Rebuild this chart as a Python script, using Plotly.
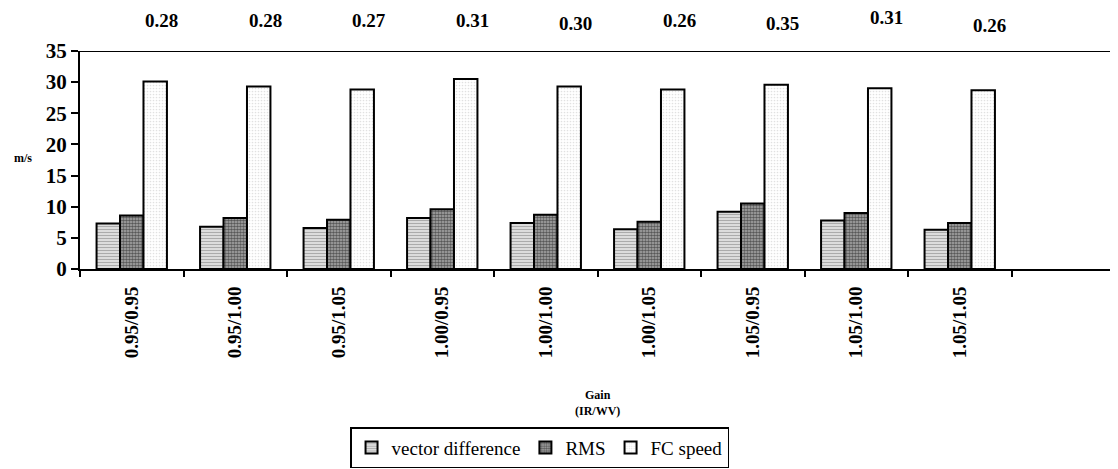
import plotly.graph_objects as go

categories = ["0.95/0.95", "0.95/1.00", "0.95/1.05", "1.00/0.95", "1.00/1.00",
              "1.00/1.05", "1.05/0.95", "1.05/1.00", "1.05/1.05", " "]
vector_difference = [7.3, 6.8, 6.6, 8.2, 7.4, 6.4, 9.2, 7.8, 6.3, None]
rms = [8.6, 8.2, 7.9, 9.6, 8.7, 7.6, 10.5, 9.0, 7.4, None]
fc_speed = [30.1, 29.3, 28.8, 30.5, 29.3, 28.8, 29.6, 29.0, 28.7, None]
ratios = ["0.28", "0.28", "0.27", "0.31", "0.30", "0.26", "0.35", "0.31", "0.26"]
ratio_label_y = [20, 20, 20, 20, 24, 20, 24, 18, 25]  # pixel from top (style)

FONT = "Times New Roman"

fig = go.Figure()
fig.add_trace(go.Bar(
    x=categories, y=vector_difference, name="vector difference",
    marker=dict(color="#d9d9d9", line=dict(color="black", width=2),
                pattern=dict(shape="-", fgcolor="#707070", bgcolor="#e6e6e6",
                             size=3, solidity=0.45))))
fig.add_trace(go.Bar(
    x=categories, y=rms, name="RMS",
    marker=dict(color="#606060", line=dict(color="black", width=2),
                pattern=dict(shape=".", fgcolor="#000000", bgcolor="#b0b0b0",
                             size=3, solidity=0.6))))
fig.add_trace(go.Bar(
    x=categories, y=fc_speed, name="FC speed",
    marker=dict(color="white", line=dict(color="black", width=2),
                pattern=dict(shape=".", fgcolor="#c4c4c4", bgcolor="#ffffff",
                             size=3, solidity=0.25))))

# page has an 8px body margin, so the figure is sized to fit the window
W, H = 1110, 461
top_m, bot_m = 43, 200
plot_h = H - top_m - bot_m
for cat, lab, py in zip(categories, ratios, ratio_label_y):
    fig.add_annotation(x=cat, xref="x", y=(H - bot_m - (py - 8)) / plot_h, yref="paper",
                       text=lab, showarrow=False, xshift=30, yanchor="middle",
                       font=dict(family=FONT, size=19, color="black", weight="bold"))

fig.add_annotation(x=-0.066, xref="paper", y=0.51, yref="paper", text="m/s",
                   showarrow=False, font=dict(family=FONT, size=12, color="black", weight="bold"))
fig.add_annotation(x=0.5, xref="paper", y=-0.615, yref="paper", text="Gain<br>(IR/WV)",
                   showarrow=False, yanchor="middle",
                   font=dict(family=FONT, size=12, color="black", weight="bold"))

fig.add_shape(type="line", xref="paper", yref="y", x0=0, x1=1, y0=35, y1=35,
              line=dict(color="black", width=2))

fig.update_layout(
    width=W, height=H,
    margin=dict(l=72, r=3, t=top_m, b=bot_m, autoexpand=False),
    paper_bgcolor="white", plot_bgcolor="white",
    barmode="group", bargap=0.32, bargroupgap=0,
    font=dict(family=FONT, color="black"),
    showlegend=True,
    legend=dict(orientation="h", x=0.444, xanchor="center", y=-0.725, yanchor="top",
                bordercolor="black", borderwidth=1.5,
                font=dict(family="Liberation Serif", size=19, color="black"),
                itemwidth=30, tracegroupgap=0),
    xaxis=dict(type="category", categoryorder="array", categoryarray=categories,
               showline=True, linecolor="black", linewidth=2, automargin=False,
               ticks="outside", tickson="boundaries", ticklen=6, tickwidth=2, tickcolor="black",
               ticklabelstandoff=8,
               tickangle=-90, showgrid=False, zeroline=False,
               tickfont=dict(family=FONT, size=19, color="black", weight="bold")),
    yaxis=dict(range=[0, 35], dtick=5, showline=True, linecolor="black", linewidth=2,
               automargin=False,
               ticks="outside", ticklen=7, tickwidth=2, tickcolor="black",
               showgrid=False, zeroline=False,
               tickfont=dict(family=FONT, size=21, color="black", weight="bold")),
)

fig.write_html("out.html")
